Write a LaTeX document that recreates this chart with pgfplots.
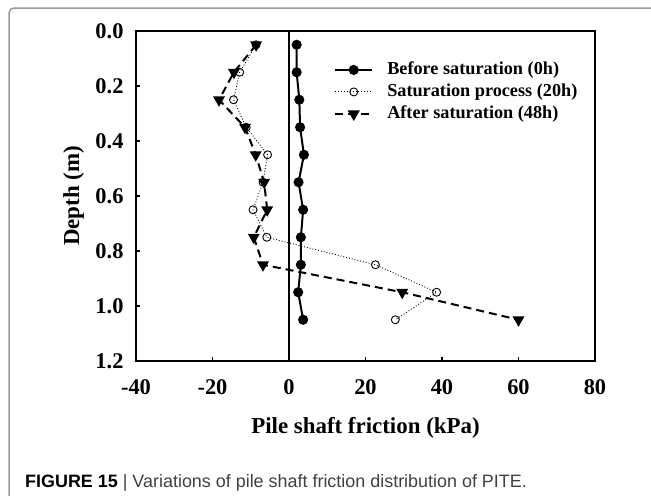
\documentclass[border=0pt]{standalone}
\usepackage{fontspec}
\setmainfont{Liberation Serif}
\newfontfamily\capfont{Liberation Sans}
\usepackage{pgfplots}
\pgfplotsset{compat=1.18}

\begin{document}
\begin{tikzpicture}
\useasboundingbox (0,0) rectangle (651bp,-496bp);
\begin{scope}
\clip (0,0) rectangle (651bp,-496bp);
\draw[black!40, line width=1.5bp, rounded corners=5bp] (9bp,-8bp) rectangle (700bp,-560bp);
\end{scope}

\begin{axis}[
    at={(136bp,-31bp)}, anchor=north west,
    scale only axis, width=459bp, height=330bp,
    xmin=-40, xmax=80, ymin=0, ymax=1.2,
    y dir=reverse,
    xtick={-40,-20,...,80}, ytick={0,0.2,0.4,0.6,0.8,1.0,1.2},
    tick align=inside,
    xtick pos=lower, ytick pos=left,
    major tick length=4bp,
    axis line style={line width=2.2bp},
    tick style={line width=1.5bp, black},
    /pgf/number format/assume math mode=true,
    yticklabel style={/pgf/number format/fixed, /pgf/number format/fixed zerofill,
        /pgf/number format/precision=1, xshift=-9bp},
    xticklabel style={yshift=-15bp},
    ticklabel style={font=\fontsize{22.5}{25}\selectfont\bfseries},
    xlabel={Pile shaft friction (kPa)},
    ylabel={Depth (m)},
    xlabel style={yshift=-16bp},
    ylabel style={yshift=4.5bp},
    label style={font=\fontsize{23}{26}\selectfont\bfseries},
    legend style={draw=none, fill=none, at={(0.425,0.922)}, anchor=north west,
        font=\fontsize{18.3}{21}\selectfont\bfseries, row sep=0pt, column sep=12bp,
        nodes={inner sep=2bp, text height=14bp, text depth=4bp}},
    legend cell align=left,
    legend image code/.code={
        \draw[mark repeat=2, mark phase=2, #1] plot coordinates {(0bp,0bp) (18.5bp,0bp) (37bp,0bp)};},
]
\addplot[black, line width=2bp, mark=*, mark size=4bp] coordinates {
(2.0,0.05) (2.0,0.15) (2.7,0.25) (2.9,0.35) (3.9,0.45) (2.5,0.55)
(3.7,0.65) (3.1,0.75) (3.1,0.85) (2.4,0.95) (3.7,1.05)};
\addplot[black, line width=0.9bp, dotted, mark=o, mark size=4bp,
    mark options={solid, fill=white, line width=0.9bp}] coordinates {
(-8.6,0.05) (-12.9,0.15) (-14.5,0.25) (-11.2,0.35) (-5.6,0.45) (-6.8,0.55)
(-9.4,0.65) (-5.8,0.75) (22.6,0.85) (38.6,0.95) (27.8,1.05)};
\addplot[black, line width=2bp, dash pattern=on 8bp off 5bp, mark=triangle*, mark size=5bp,
    mark options={solid, rotate=180}] coordinates {
(-8.6,0.05) (-14.4,0.15) (-18.3,0.25) (-11.5,0.35) (-8.7,0.45) (-6.5,0.55)
(-5.7,0.65) (-9.2,0.75) (-6.8,0.85) (29.6,0.95) (60.0,1.05)};
\addplot[black, line width=2bp, forget plot] coordinates {(0,0) (0,1.2)};
\legend{Before saturation (0h), Saturation process (20h), After saturation (48h)}
\end{axis}

\node[anchor=base west, inner sep=0pt, font=\capfont\fontsize{18}{20}\selectfont] at (25bp,-487bp)
    {\textbf{FIGURE 15} {\color{black!75}| Variations of pile shaft friction distribution of PITE.}};
\end{tikzpicture}
\end{document}
